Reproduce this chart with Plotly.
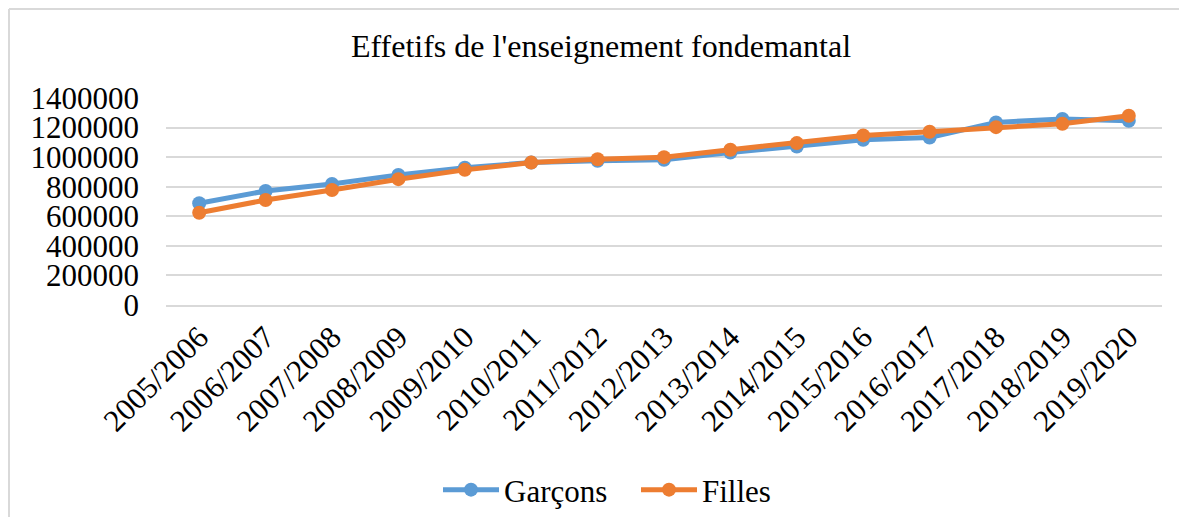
import plotly.graph_objects as go

# ---------------------------------------------------
# DATA
# ---------------------------------------------------

annees = ["2005/2006", "2006/2007", "2007/2008", "2008/2009", "2009/2010",
          "2010/2011", "2011/2012", "2012/2013", "2013/2014", "2014/2015",
          "2015/2016", "2016/2017", "2017/2018", "2018/2019", "2019/2020"]

garcons = [688000, 771000, 819000, 880000, 929000,
           963000, 975000, 982000, 1031000, 1072000,
           1117000, 1133000, 1235000, 1258000, 1246000]

filles = [624000, 710000, 778000, 851000, 914000,
          963000, 986000, 1000000, 1050000, 1095000,
          1147000, 1172000, 1203000, 1226000, 1280000]

y_ticks = [0, 200000, 400000, 600000, 800000, 1000000, 1200000, 1400000]

FONT = "Liberation Serif, Times New Roman, serif"
BLUE = "#5B9BD5"
ORANGE = "#ED7D31"
W, H = 1171, 509

# ---------------------------------------------------
# FIGURE
# ---------------------------------------------------

fig = go.Figure()

fig.add_trace(go.Scatter(
    x=annees, y=garcons, mode="lines+markers", name="Garçons",
    line=dict(color=BLUE, width=5),
    marker=dict(color=BLUE, size=14)
))

fig.add_trace(go.Scatter(
    x=annees, y=filles, mode="lines+markers", name="Filles",
    line=dict(color=ORANGE, width=5),
    marker=dict(color=ORANGE, size=14)
))

fig.update_layout(
    width=W, height=H,
    paper_bgcolor="white", plot_bgcolor="white",
    font=dict(family=FONT, size=31, color="black"),
    title=dict(text="Effetifs de l'enseignement fondemantal",
               x=593 / W, xref="container", xanchor="center",
               y=1 - 38 / H, yref="container", yanchor="middle",
               font=dict(size=32)),
    margin=dict(l=158, r=17, t=90, b=212),
    showlegend=True,
    legend=dict(orientation="h", xref="container", yref="container",
                x=628 / W, xanchor="center", y=1 - 482 / H, yanchor="middle",
                font=dict(size=31), itemwidth=56,
                entrywidth=127, entrywidthmode="pixels",
                bgcolor="rgba(0,0,0,0)"),
    shapes=[
        dict(type="line", xref="paper", yref="paper",
             x0=-157 / 996, x1=1.05, y0=1 + 89 / 207, y1=1 + 89 / 207,
             line=dict(color="#D9D9D9", width=2)),
        dict(type="line", xref="paper", yref="paper",
             x0=-157 / 996, x1=-157 / 996, y0=-2, y1=1 + 89 / 207,
             line=dict(color="#D9D9D9", width=2)),
    ],
)

fig.update_xaxes(
    type="category", range=[-0.5, 14.5],
    tickangle=-45, showgrid=False,
    showline=True, linecolor="#D9D9D9", linewidth=1.5,
    ticks="", tickfont=dict(size=31)
)

fig.update_yaxes(
    range=[0, 1400000], tickvals=y_ticks,
    ticktext=[str(v) for v in y_ticks],
    showgrid=True, gridcolor="#D9D9D9", gridwidth=1.5,
    zeroline=False, showline=False, ticks="",
    ticklabelstandoff=26, tickfont=dict(size=31)
)

fig.write_html("out.html")
